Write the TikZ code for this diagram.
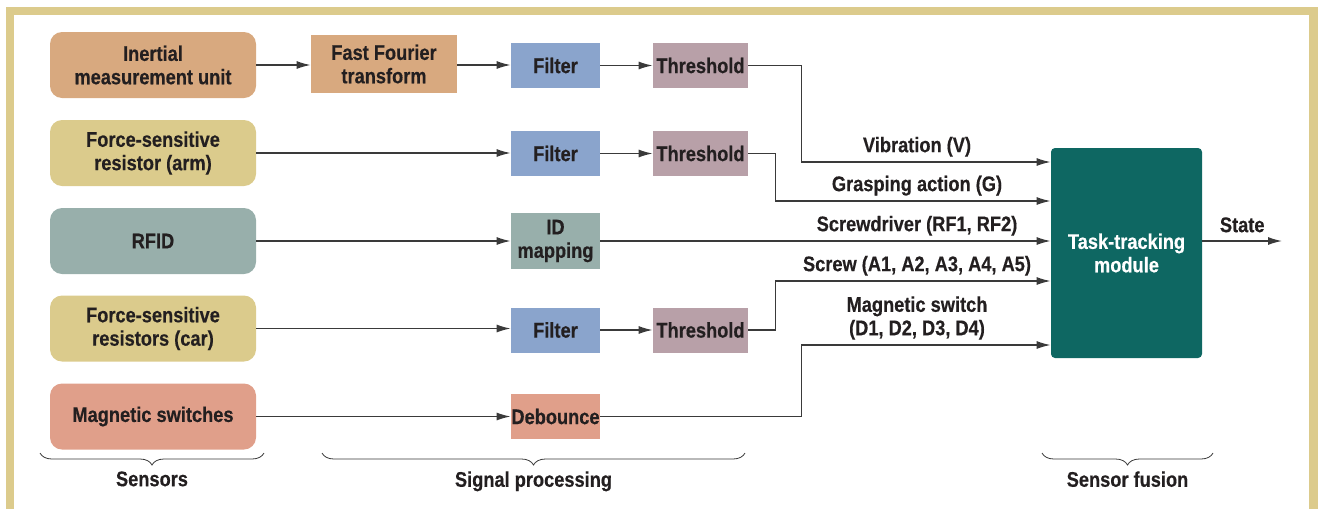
\documentclass[tikz,border=0pt]{standalone}
\usepackage{fontspec}
\setmainfont{Liberation Sans}[FakeStretch=0.86,BoldFeatures={FakeBold=0.4}]
\usepackage{tikz}
\usetikzlibrary{arrows.meta,decorations.pathreplacing}

\definecolor{frametan}{HTML}{DCCB8C}
\definecolor{imucol}{HTML}{D8A97F}
\definecolor{fsrcol}{HTML}{DBCB8C}
\definecolor{rfidcol}{HTML}{98AFAB}
\definecolor{magcol}{HTML}{E09F8A}
\definecolor{filtcol}{HTML}{8AA4CC}
\definecolor{thrcol}{HTML}{B8A0A8}
\definecolor{taskcol}{HTML}{0E6762}
\definecolor{ink}{HTML}{231F20}
\definecolor{wire}{HTML}{3A3A3A}

\begin{document}
\begin{tikzpicture}[x=0.5pt,y=-0.5pt,
  font=\fontsize{10.6}{11.7}\selectfont\bfseries, text=ink,
  box/.style={inner sep=0pt,align=center},
  sensor/.style={box,rounded corners=6pt,minimum width=103pt,minimum height=33pt},
  proc/.style={box,minimum width=44.5pt,minimum height=22.5pt},
  thresh/.style={proc,fill=thrcol,minimum width=47.5pt},
  link/.style={draw=wire,line width=0.65pt,-{Latex[length=7pt,width=4pt]}},
  lbl/.style={anchor=south,inner sep=0pt,align=center},
  brc/.style={decorate,decoration={brace,mirror,amplitude=6pt},draw=wire,line width=0.4pt}]
\useasboundingbox (0,0) rectangle (1320,509);
% frame
\fill[frametan] (6,7) rectangle (1318,15);
\fill[frametan] (6,7) rectangle (14,509);
\fill[frametan] (1309,7) rectangle (1318,509);

% sensors
\node[sensor,fill=imucol] (imu) at (153,65) {Inertial\\measurement unit};
\node[sensor,fill=fsrcol] (fsrA) at (153,153) {Force-sensitive\\resistor (arm)};
\node[sensor,fill=rfidcol] (rfid) at (153,241) {RFID};
\node[sensor,fill=fsrcol] (fsrB) at (153,328.5) {Force-sensitive\\resistors (car)};
\node[sensor,fill=magcol] (mag) at (153,416.5) {Magnetic switches};

% signal processing
\node[box,fill=imucol,minimum width=73pt,minimum height=29pt] (fft) at (384,64) {Fast Fourier\\transform};
\node[proc,fill=filtcol] (filtA) at (555.5,65.5) {Filter};
\node[thresh] (thrA) at (700.5,65.5) {Threshold};
\node[proc,fill=filtcol] (filtB) at (555.5,153.5) {Filter};
\node[thresh] (thrB) at (700.5,153.5) {Threshold};
\node[proc,fill=rfidcol,minimum height=28pt] (idmap) at (555.5,241) {ID\\mapping};
\node[proc,fill=filtcol] (filtC) at (555.5,330) {Filter};
\node[thresh] (thrC) at (700.5,330) {Threshold};
\node[proc,fill=magcol] (deb) at (555.5,416.5) {Debounce};

% sensor fusion
\node[box,fill=taskcol,text=white,rounded corners=2pt,minimum width=75.5pt,minimum height=105pt] (task) at (1126.5,253) {Task-tracking\\module};

\coordinate (inV) at (task.west |- 0,162);
\coordinate (inG) at (task.west |- 0,201);
\coordinate (inR) at (task.west |- 0,241);
\coordinate (inA) at (task.west |- 0,281);
\coordinate (inD) at (task.west |- 0,345);
\coordinate (out) at (1282,241);

% connectors
\draw[link] (imu.east) -- (imu.east -| fft.west);
\draw[link] (imu.east -| fft.east) -- (imu.east -| filtA.west);
\draw[link] (filtA) -- (thrA);
\draw[link] (fsrA.east) -- (fsrA.east -| filtB.west);
\draw[link] (filtB) -- (thrB);
\draw[link] (rfid.east) -- (idmap.west);
\draw[link] (fsrB.east) -- (fsrB.east -| filtC.west);
\draw[link] (filtC) -- (thrC);
\draw[link] (mag.east) -- (deb.west);

\draw[link] (thrA.east) -- ++(53,0) |- (inV);
\draw[link] (thrB.east) -- ++(27,0) |- (inG);
\draw[link] (idmap.east) -- (inR);
\draw[link] (thrC.east) -- ++(27,0) |- (inA);
\draw[link] (deb.east) -- ++(201,0) |- (inD);
\draw[link] (task.east |- out) -- (out) node[midway,above=4pt,inner sep=0pt] (state) {State};

\node[lbl] (labV) at (917,157) {Vibration (V)};
\node[lbl] (labG) at (917,196) {Grasping action (G)};
\node[lbl] (labR) at (917,236) {Screwdriver (RF1, RF2)};
\node[lbl] (labA) at (917,276) {Screw (A1, A2, A3, A4, A5)};
\node[lbl] (labD) at (917,340) {Magnetic switch\\(D1, D2, D3, D4)};

% braces
\draw[brc] (40,453) -- (264,453) node[midway,below=9pt,inner sep=0pt] (sens) {Sensors};
\draw[brc] (322,453) -- (745,453) node[midway,below=9pt,inner sep=0pt] (sigp) {Signal processing};
\draw[brc] (1042,453) -- (1213,453) node[midway,below=9pt,inner sep=0pt] (fus) {Sensor fusion};
\end{tikzpicture}
\end{document}
